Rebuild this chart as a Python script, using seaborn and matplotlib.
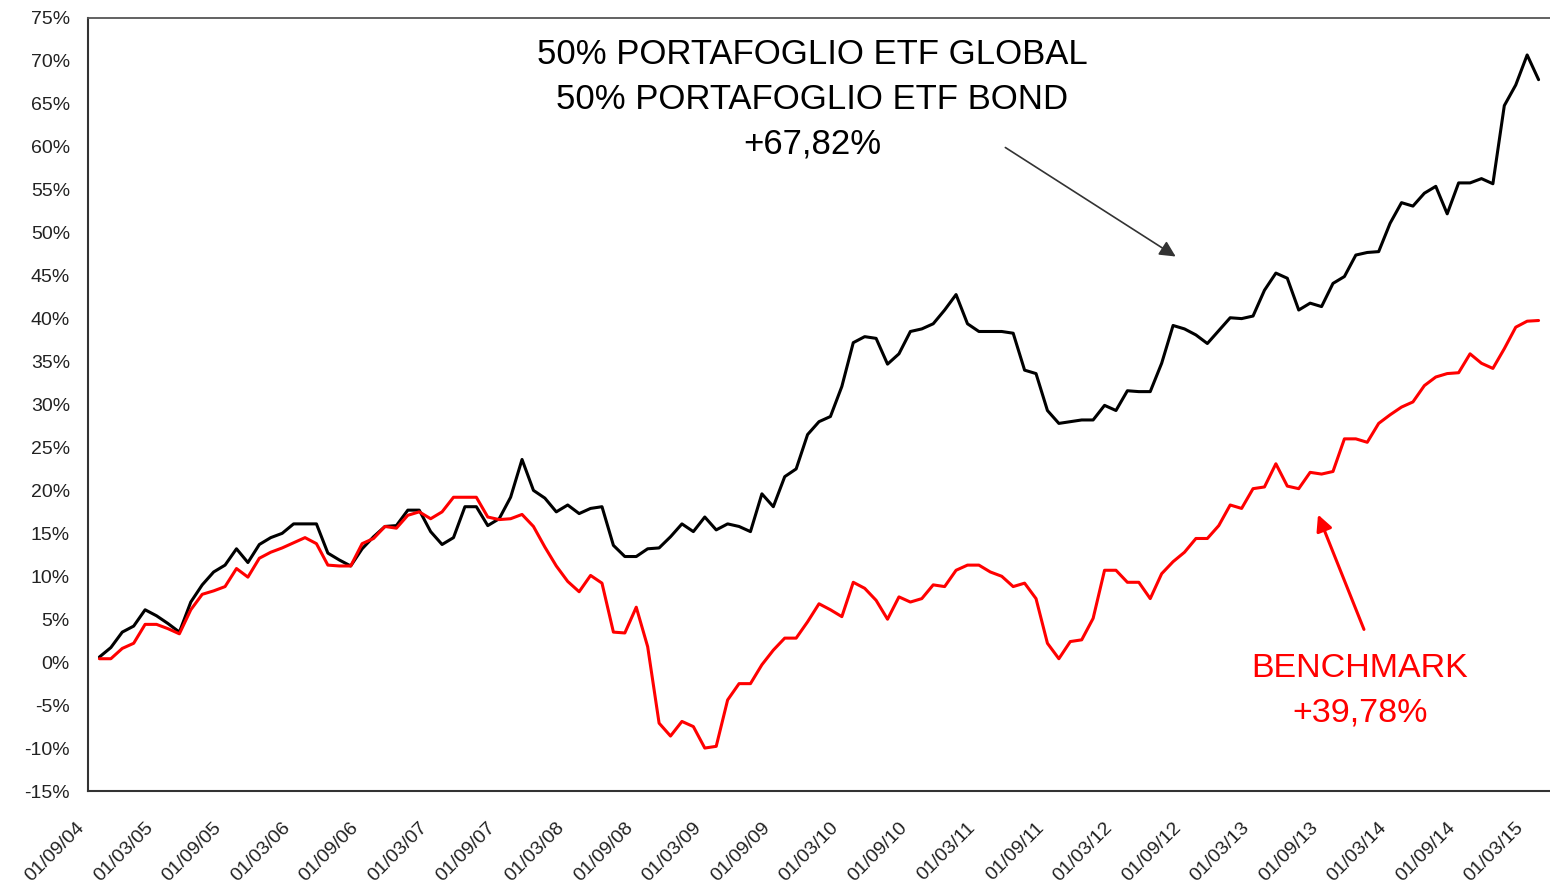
import numpy as np
import pandas as pd
import seaborn as sns
import matplotlib.pyplot as plt
from matplotlib.transforms import ScaledTranslation

# monthly cumulative performance (%), Oct 2004 -> Apr 2015
dates = pd.date_range('2004-10-01', periods=127, freq='MS')

portfolio = [
    0.6, 1.7, 3.5, 4.2, 6.1, 5.4, 4.5, 3.5, 7.0, 9.0, 10.5, 11.3, 13.2, 11.6, 13.7, 14.5,
    15.0, 16.1, 16.1, 16.1, 12.7, 11.9, 11.2, 13.2, 14.6, 15.8, 15.9, 17.7, 17.7, 15.2, 13.7, 14.5,
    18.1, 18.1, 15.9, 16.7, 19.2, 23.6, 20.0, 19.1, 17.5, 18.3, 17.3, 17.9, 18.1, 13.6, 12.3, 12.3,
    13.2, 13.3, 14.6, 16.1, 15.2, 16.9, 15.4, 16.1, 15.8, 15.2, 19.6, 18.1, 21.6, 22.5, 26.5, 28.0,
    28.6, 32.1, 37.2, 37.9, 37.7, 34.7, 35.9, 38.5, 38.8, 39.4, 41.0, 42.8, 39.4, 38.5, 38.5, 38.5,
    38.3, 34.0, 33.6, 29.3, 27.8, 28.0, 28.2, 28.2, 29.9, 29.3, 31.6, 31.5, 31.5, 34.8, 39.2, 38.8,
    38.1, 37.1, 38.6, 40.1, 40.0, 40.3, 43.3, 45.3, 44.7, 41.0, 41.8, 41.4, 44.1, 44.9, 47.4, 47.7,
    47.8, 51.1, 53.5, 53.1, 54.6, 55.4, 52.2, 55.8, 55.8, 56.3, 55.7, 64.8, 67.2, 70.7, 67.82,
]

benchmark = [
    0.4, 0.4, 1.6, 2.2, 4.4, 4.4, 3.9, 3.3, 6.1, 7.9, 8.3, 8.8, 10.9, 9.9, 12.1, 12.8,
    13.3, 13.9, 14.5, 13.8, 11.3, 11.2, 11.2, 13.8, 14.4, 15.8, 15.6, 17.1, 17.5, 16.7, 17.5, 19.2,
    19.2, 19.2, 16.9, 16.6, 16.7, 17.2, 15.8, 13.4, 11.2, 9.4, 8.2, 10.1, 9.2, 3.5, 3.4, 6.4,
    1.8, -7.1, -8.6, -6.9, -7.5, -10.0, -9.8, -4.4, -2.5, -2.5, -0.3, 1.4, 2.8, 2.8, 4.7, 6.8,
    6.1, 5.3, 9.3, 8.6, 7.2, 5.0, 7.6, 7.0, 7.4, 9.0, 8.8, 10.7, 11.3, 11.3, 10.5, 10.0,
    8.8, 9.2, 7.4, 2.2, 0.4, 2.4, 2.6, 5.1, 10.7, 10.7, 9.3, 9.3, 7.4, 10.3, 11.7, 12.8,
    14.4, 14.4, 15.9, 18.3, 17.9, 20.2, 20.4, 23.1, 20.5, 20.2, 22.1, 21.9, 22.2, 26.0, 26.0, 25.6,
    27.8, 28.8, 29.7, 30.3, 32.2, 33.2, 33.6, 33.7, 35.9, 34.8, 34.2, 36.5, 39.0, 39.7, 39.78,
]

tick_dates = pd.date_range('2004-09-01', periods=22, freq='6MS')
y_ticks = list(range(-15, 80, 5))

sns.set_style('white')
plt.rcParams['font.family'] = ['Liberation Sans', 'DejaVu Sans']

df = pd.DataFrame({'date': dates, 'portfolio': portfolio, 'benchmark': benchmark})
df['month'] = (df['date'].dt.year - 2004) * 12 + df['date'].dt.month - 9

fig = plt.figure(figsize=(15.5, 8.84), dpi=100)
ax = fig.add_axes([88 / 1550, 93 / 884, 1462 / 1550, 773 / 884])

sns.lineplot(data=df, x='month', y='portfolio', ax=ax, color='black', linewidth=2.2)
sns.lineplot(data=df, x='month', y='benchmark', ax=ax, color='#ff0000', linewidth=2.2)

ax.set_xlim(0, 128)
ax.set_ylim(-15, 75)
tick_pos = [(d.year - 2004) * 12 + d.month - 9 for d in tick_dates]
ax.set_xticks(tick_pos)
ax.set_xticklabels([d.strftime('%d/%m/%y') for d in tick_dates], rotation=45,
                   ha='right', va='top', rotation_mode='anchor')
ax.set_yticks(y_ticks)
ax.set_yticklabels([f'{v}%' for v in y_ticks])
ax.set_xlabel('')
ax.set_ylabel('')

ax.tick_params(axis='both', direction='out', length=6, width=1.3, colors='#333333',
               labelsize=14, labelcolor='#222222')
ax.tick_params(axis='y', pad=7)
ax.tick_params(axis='x', pad=14)
shift = ScaledTranslation(-0.12, 0, fig.dpi_scale_trans)
for lab in ax.get_xticklabels():
    lab.set_transform(lab.get_transform() + shift)

for side in ['left', 'bottom']:
    ax.spines[side].set_color('#333333')
    ax.spines[side].set_linewidth(1.5)
ax.spines['top'].set_color('#555555')
ax.spines['top'].set_linewidth(1.3)
ax.spines['right'].set_visible(False)

# annotations
fig.text(812 / 1550, 1 - 38 / 884, '50% PORTAFOGLIO ETF GLOBAL\n50% PORTAFOGLIO ETF BOND\n+67,82%',
         ha='center', va='top', fontsize=25, color='black', linespacing=1.45)
ax.annotate('', xy=(1178 / 1550, 1 - 258 / 884), xytext=(1003 / 1550, 1 - 146 / 884),
            xycoords='figure fraction', textcoords='figure fraction',
            arrowprops=dict(arrowstyle='-|>', color='#333333', lw=1.2, mutation_scale=24))

fig.text(1360 / 1550, 1 - 653 / 884, 'BENCHMARK\n+39,78%', ha='center', va='top',
         fontsize=24.5, color='#ff0000', linespacing=1.55)
ax.annotate('', xy=(1317 / 1550, 1 - 512 / 884), xytext=(1365 / 1550, 1 - 632 / 884),
            xycoords='figure fraction', textcoords='figure fraction',
            arrowprops=dict(arrowstyle='-|>', color='#ff0000', lw=2.2, mutation_scale=24))

fig.savefig('out.png', dpi=100)
